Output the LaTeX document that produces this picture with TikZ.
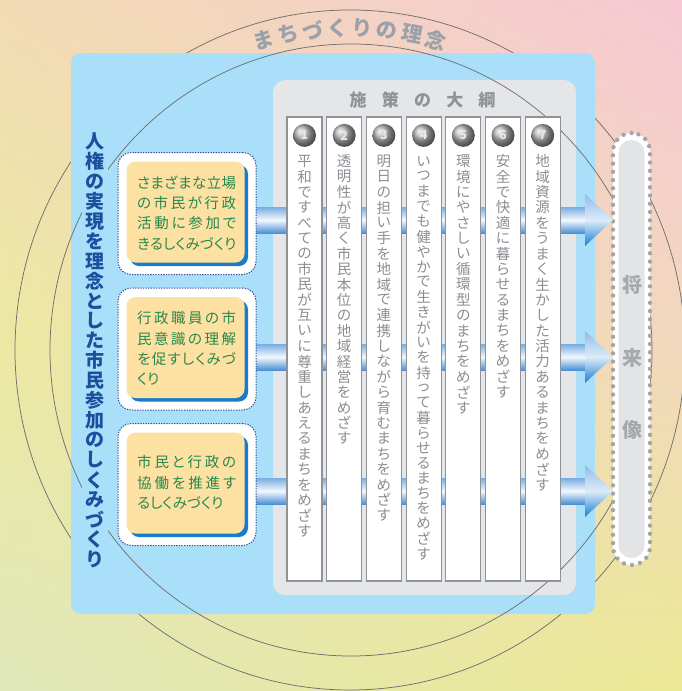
\documentclass[tikz,border=0pt]{standalone}
\usepackage{fontspec}
\setmainfont{Noto Sans CJK JP}
\newfontfamily\jpp[RawFeature=+palt]{Noto Sans CJK JP}
\usetikzlibrary{calc,shadows}
\definecolor{TL}{HTML}{F2DBB3}
\definecolor{TR}{HTML}{F6C9D4}
\definecolor{ML}{HTML}{ECE9A3}
\definecolor{MR}{HTML}{F2D8BD}
\definecolor{BL}{HTML}{DFE8B9}
\definecolor{BR}{HTML}{ECE994}
\definecolor{bluebg}{HTML}{A9DFF8}
\definecolor{panel}{HTML}{E5E6E8}
\definecolor{circline}{HTML}{707070}
\definecolor{arcgray}{HTML}{9BA1AA}
\definecolor{titlegray}{HTML}{8F9297}
\definecolor{colgray}{HTML}{8B8E93}
\definecolor{colborder}{HTML}{8F9299}
\definecolor{navy}{HTML}{1B4FA0}
\definecolor{dotnavy}{HTML}{34489A}
\definecolor{boxorange}{HTML}{FDE1A3}
\definecolor{shadowblue}{HTML}{1A7BC8}
\definecolor{boxgreen}{HTML}{27884C}
\definecolor{dotgray}{HTML}{A2A5AA}
\definecolor{pillgray}{HTML}{E3E4E6}
\definecolor{pilltext}{HTML}{A5A8AD}
\definecolor{shtop}{HTML}{78ADE2}
\definecolor{shmid}{HTML}{F3F8FD}
\definecolor{shbot}{HTML}{4C91D6}
\definecolor{hdtop}{HTML}{8DBCEA}
\definecolor{hdmid}{HTML}{DDEBF8}
\definecolor{hdbot}{HTML}{1A80D0}
\definecolor{ballgray}{HTML}{B2B2B2}
\ExplSyntaxOn
\NewDocumentCommand\vstack{O{1.1em}m}{
  \vbox:n {
    \offinterlineskip
    \tl_map_inline:nn {#2} {
      \hbox_to_wd:nn {1.2em} { \hfil \vbox_to_ht:nn {#1} { \vfil \hbox:n {##1} \vfil } \hfil }
    }
  }
}
\NewDocumentCommand\jline{mm}{
  \hbox_to_wd:nn {#1} { \tl_map_inline:nn {#2} { ##1 \hskip 0pt plus 1fil minus 1fil\relax } \unskip }
}
\ExplSyntaxOff
\begin{document}
\begin{tikzpicture}[x=1pt,y=-1pt,
  circ/.style={draw=circline,line width=0.75pt},
  arctext/.style={text=arcgray,font=\fontsize{21}{21}\selectfont\bfseries,inner sep=0pt},
  colbox/.style={draw=colborder,line width=1.2pt,fill=white,minimum width=35pt,minimum height=464pt,inner sep=0pt},
  numball/.style={circle,shading=ball,ball color=ballgray,minimum size=23pt,inner sep=0pt,text=white!82!gray,font=\fontsize{12.5}{12.5}\selectfont\bfseries},
  coltext/.style={text=colgray,font=\fontsize{14.5}{14.5}\selectfont,inner sep=0pt,anchor=north},
  outerbox/.style={draw=dotnavy,line width=1pt,dash pattern=on 1.3pt off 1.3pt,fill=white,rounded corners=13pt,minimum width=138pt,minimum height=122pt,inner sep=0pt},
  innerbox/.style={fill=boxorange,rounded corners=9pt,minimum width=118pt,minimum height=101pt,inner sep=0pt,drop shadow={shadow xshift=3.5pt,shadow yshift=-3.5pt,opacity=1,fill=shadowblue}},
  boxtext/.style={text=boxgreen,font=\jpp\fontsize{14.5}{20.3}\selectfont,align=left,inner sep=0pt,anchor=west},
  shaft/.style={top color=shtop,bottom color=shbot,middle color=shmid},
  head/.style={top color=hdtop,bottom color=hdbot,middle color=hdmid},
]
\useasboundingbox (0,0) rectangle (682,691);
% background gradient
\foreach \i in {0,...,34}{
  \pgfmathsetmacro\p{\i/34*100}
  \colorlet{cl}{ML!\p!TL}\colorlet{cr}{MR!\p!TR}
  \shade[left color=cl,right color=cr] (-1,{\i*10.15-0.5}) rectangle (683,{\i*10.15+10.7});
}
\foreach \i in {0,...,34}{
  \pgfmathsetmacro\p{\i/34*100}
  \colorlet{cl}{BL!\p!ML}\colorlet{cr}{BR!\p!MR}
  \shade[left color=cl,right color=cr] (-1,{345+\i*10.15-0.5}) rectangle (683,{345+\i*10.15+10.7});
}
% outer circle and its text
\draw[circ] (350,350) ellipse [x radius=335, y radius=340];
\foreach \ch [count=\i from 0] in {ま,ち,づ,く,り,の,理,念}{
  \pgfmathsetmacro\rot{15.7-\i*4.486}
  \node[arctext,rotate=\rot] (arc\i) at ({350-318*sin(\rot)},{350-322*cos(\rot)}) {\ch};
}
% blue area and gray panel
\fill[bluebg,rounded corners=10pt] (71,53) rectangle (595,614);
\fill[panel,rounded corners=12pt] (273,80) rectangle (576,595);
\draw[circ] (351,350) ellipse [x radius=301, y radius=306];
\node[text=titlegray,font=\fontsize{17}{17}\selectfont\bfseries,inner sep=0pt] (policy) at (422.5,100) {\jline{146pt}{施策の大綱}};
% main vertical title
\node[text=navy,font=\fontsize{19}{19}\selectfont\bfseries,fill=bluebg,inner sep=1.5pt,anchor=north] (maintitle) at (95,130) {\vstack[19.9pt]{人権の実現を理念とした市民参加のしくみづくり}};
% future pill
\node[draw=dotgray,line width=4.4pt,dash pattern=on 0pt off 8.25pt,line cap=round,fill=white,rounded corners=18.4pt,minimum width=37pt,minimum height=432pt,inner sep=0pt,outer sep=0pt] (pill) at (631.5,349) {};
\node[fill=pillgray,rounded corners=12.9pt,minimum width=26pt,minimum height=418pt,inner sep=0pt] (pillin) at (pill.center) {};
\node[text=pilltext,font=\fontsize{20}{20}\selectfont\bfseries,inner sep=0pt] (future) at ($(pill.center)+(1,8.5)$) {\vstack[72.5pt]{将来像}};
% pipes and arrowheads
\coordinate (s1) at (240,220);
\coordinate (s2) at (240,357);
\coordinate (s3) at (240,491);
\foreach \k in {1,2,3}{
  \shade[shaft] ($(s\k)+(0,-13)$) rectangle ($(pill.west |- s\k)+(-27,13)$);
  \shade[head] ($(pill.west |- s\k)+(-28,-26)$) -- (pill.west |- s\k) -- ($(pill.west |- s\k)+(-28,26)$) -- cycle;
}
% columns
\foreach \k in {1,...,7}{
  \node[colbox] (col\k) at ({304.5+39.7*(\k-1)},349) {};
  \node[numball] (ball\k) at ($(col\k.north)+(0,19)$) {\k};
}
\node[coltext] (txt1) at ($(col1.north)+(0,37)$) {\vstack[15.4pt]{平和ですべての市民が互いに尊重しあえるまちをめざす}};
\node[coltext] (txt2) at ($(col2.north)+(0,37)$) {\vstack[15.4pt]{透明性が高く市民本位の地域経営をめざす}};
\node[coltext] (txt3) at ($(col3.north)+(0,37)$) {\vstack[15.4pt]{明日の担い手を地域で連携しながら育むまちをめざす}};
\node[coltext] (txt4) at ($(col4.north)+(0,37)$) {\vstack[15.1pt]{いつまでも健やかで生きがいを持って暮らせるまちをめざす}};
\node[coltext] (txt5) at ($(col5.north)+(0,37)$) {\vstack[15.4pt]{環境にやさしい循環型のまちをめざす}};
\node[coltext] (txt6) at ($(col6.north)+(0,37)$) {\vstack[15.4pt]{安全で快適に暮らせるまちをめざす}};
\node[coltext] (txt7) at ($(col7.north)+(0,37)$) {\vstack[15.4pt]{地域資源をうまく生かした活力あるまちをめざす}};
% left boxes
\node[outerbox] (ob1) at (187,213.5) {};
\node[innerbox] (ib1) at ($(ob1.center)+(-1.5,-1.5)$) {};
\node[boxtext] (bt1) at (137,213) {\jline{99pt}{さまざまな立場}\\\jline{99pt}{の市民が行政}\\\jline{99pt}{活動に参加で}\\\jline{99pt}{きるしくみづくり}};
\node[outerbox] (ob2) at (187,349) {};
\node[innerbox] (ib2) at ($(ob2.center)+(-1.5,-1.5)$) {};
\node[boxtext] (bt2) at (137,348.5) {\jline{99pt}{行政職員の市}\\\jline{99pt}{民意識の理解}\\\jline{99pt}{を促すしくみづ}\\くり};
\node[outerbox] (ob3) at (187,484.5) {};
\node[innerbox] (ib3) at ($(ob3.center)+(-1.5,-1.5)$) {};
\node[boxtext] (bt3) at (137,482.5) {\jline{99pt}{市民と行政の}\\\jline{99pt}{協働を推進す}\\るしくみづくり};
\end{tikzpicture}
\end{document}
